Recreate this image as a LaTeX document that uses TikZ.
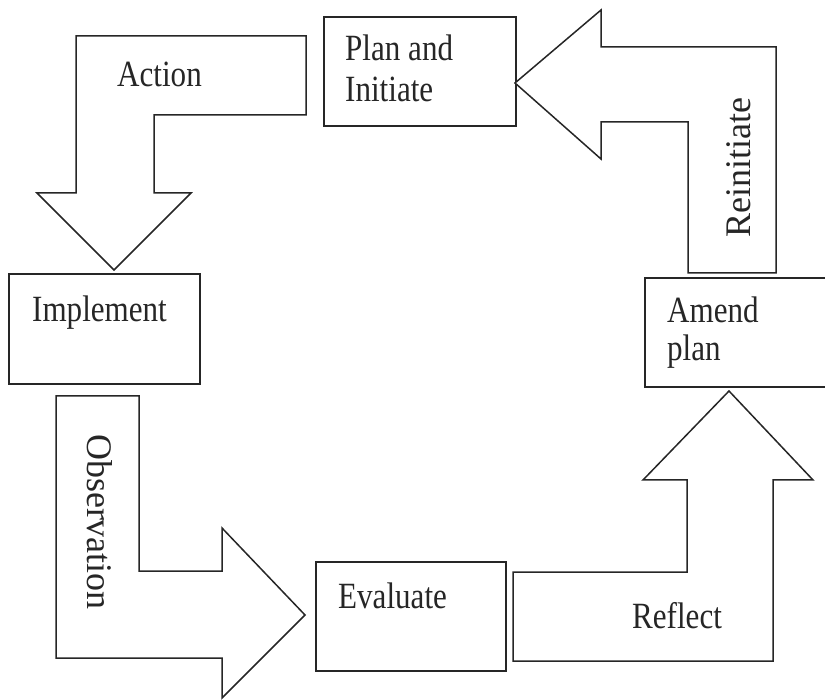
\documentclass[tikz,border=0pt]{standalone}
\usepackage{fontspec}
\setmainfont{Liberation Serif}[FakeStretch=0.84]
\newfontfamily\rotfont{Liberation Serif}
\begin{document}
\begin{tikzpicture}[x=1pt,y=-1pt,
  blockarrow/.style={draw=black!85, line width=1.5pt, line join=miter, fill=white},
  stepbox/.style={draw=black!85, line width=2.2pt, rectangle, inner sep=0pt},
  lbl/.style={anchor=base west, inner sep=0pt, font=\fontsize{37}{41}\selectfont, text=black!85},
  rlbl/.style={anchor=center, inner sep=0pt, font=\rotfont\fontsize{36}{40}\selectfont, text=black!85}]
\useasboundingbox (0,0) rectangle (825,700);
\clip (0,0) rectangle (825,700);
% boxes
\node[stepbox, minimum width=192pt, minimum height=109pt] (plan) at (420,71.5) {};
\node[stepbox, minimum width=191pt, minimum height=110pt] (impl) at (104.5,329) {};
\node[stepbox, minimum width=190pt, minimum height=109pt] (eval) at (411,616.5) {};
\node[stepbox, minimum width=190pt, minimum height=109pt] (amend) at (740,332.5) {};
% block arrows
\draw[blockarrow] (306,36) -- (76,36) -- (76,193) -- (37,193) -- (114,270) -- (191,193) -- (154,193) -- (154,115) -- (306,115) -- cycle;
\draw[blockarrow] (515,83) -- (601,10) -- (601,47) -- (776,47) -- (776,273) -- (688,273) -- (688,122) -- (601,122) -- (601,159) -- cycle;
\draw[blockarrow] (56,396) -- (139,396) -- (139,571) -- (222,571) -- (222,528) -- (305,615) -- (222,698) -- (222,658) -- (56,658) -- cycle;
\draw[blockarrow] (513,572) -- (687,572) -- (687,480) -- (643,480) -- (729,391) -- (813,480) -- (773,480) -- (773,661) -- (513,661) -- cycle;
% texts
\node[lbl] (t1) at (345,61) {Plan and};
\node[lbl] (t2) at (345,102) {Initiate};
\node[lbl] (t3) at (117,87) {Action};
\node[lbl] (t4) at (32,322) {Implement};
\node[lbl] (t5) at (667,323) {Amend};
\node[lbl] (t6) at (667,361) {plan};
\node[lbl] (t7) at (338,608) {Evaluate};
\node[lbl] (t8) at (632,628) {Reflect};
\node[rlbl, rotate=-90] (t9) at (99.5,522) {Observation};
\node[rlbl, rotate=90] (t10) at (738.5,167.5) {Reinitiate};
\end{tikzpicture}
\end{document}
